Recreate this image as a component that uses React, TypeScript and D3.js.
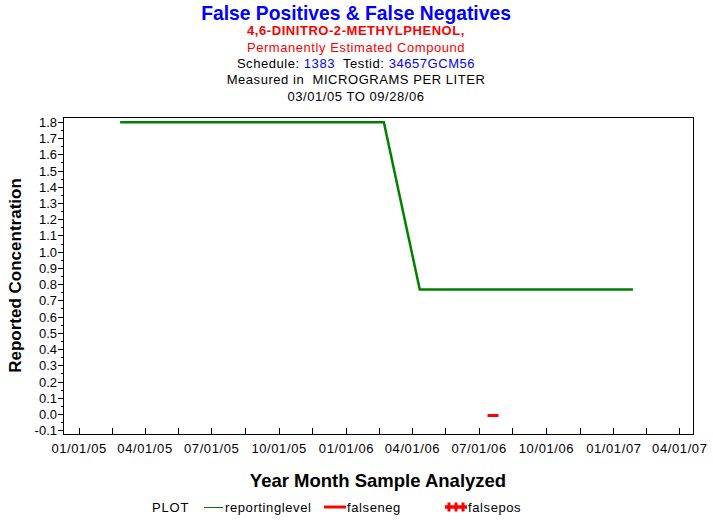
import React from "react";
import * as d3 from "d3";

const reportDates = ["2005-02-26", "2006-02-21", "2006-04-11", "2007-01-27"];
const reportValues = [1.8, 1.8, 0.77, 0.77];
const falsenegDates = ["2006-07-20"];
const falsenegValues = [0.0];
const xTickLabels = ["01/01/05", "04/01/05", "07/01/05", "10/01/05", "01/01/06", "04/01/06", "07/01/06", "10/01/06", "01/01/07", "04/01/07"];
const yTickValues = [-0.1, 0.0, 0.1, 0.2, 0.3, 0.4, 0.5, 0.6, 0.7, 0.8, 0.9, 1.0, 1.1, 1.2, 1.3, 1.4, 1.5, 1.6, 1.7, 1.8];
const titleLines = ["4,6-DINITRO-2-METHYLPHENOL,", "Permanently Estimated Compound"];

const FONT = "Arial, 'Liberation Sans', sans-serif";
const W = 713, H = 523;
const L = 63, R = 693, T = 117, B = 434;
const LS = 0.55;

const parse = d3.timeParse("%Y-%m-%d");
const parseLbl = d3.timeParse("%m/%d/%y");

export default function App() {
  const x = d3.scaleTime().domain([parse("2004-12-10")!, parse("2007-04-19")!]).range([L, R]);
  const y = d3.scaleLinear().domain([-0.1203, 1.8327]).range([B, T]);

  const majorDates = xTickLabels.map((s) => parseLbl(s)!);
  const minorDates = majorDates.slice(0, -1).map((d, i) => new Date((d.getTime() + majorDates[i + 1].getTime()) / 2));

  const line = d3.line<[Date, number]>().x((d) => x(d[0])).y((d) => y(d[1]));
  const rl: [Date, number][] = reportDates.map((d, i) => [parse(d)!, reportValues[i]]);

  const yMinor = yTickValues.slice(0, -1).map((v) => v + 0.05);

  return (
    <svg width={W} height={H} style={{ position: "absolute", left: 0, top: 0, background: "#fff" }} fontFamily={FONT}>
      <rect x={0} y={0} width={W} height={H} fill="#fff" />
      <text x={356} y={20} textAnchor="middle" fontSize={19.3} fontWeight="bold" fill="#0000ff">False Positives &amp; False Negatives</text>
      <text x={356} y={35} textAnchor="middle" fontSize={13} fontWeight="bold" fill="#ff0000" letterSpacing={LS}>{titleLines[0]}</text>
      <text x={356} y={52} textAnchor="middle" fontSize={13} fill="#ff0000" letterSpacing={LS}>{titleLines[1]}</text>
      <text x={356} y={68} textAnchor="middle" fontSize={13} fill="#000" letterSpacing={LS} style={{ whiteSpace: "pre" }}>
        {"Schedule: "}<tspan fill="#0000ff">1383</tspan>{"  Testid: "}<tspan fill="#0000ff">34657GCM56</tspan>
      </text>
      <text x={356} y={84} textAnchor="middle" fontSize={13} fill="#000" letterSpacing={LS} style={{ whiteSpace: "pre" }}>{"Measured in  MICROGRAMS PER LITER"}</text>
      <text x={356} y={101} textAnchor="middle" fontSize={13} fill="#000" letterSpacing={LS}>03/01/05 TO 09/28/06</text>

      {/* frame */}
      <rect x={L} y={T} width={R - L} height={B - T} fill="none" stroke="#000" strokeWidth={1} shapeRendering="crispEdges" />

      {/* y ticks */}
      {yTickValues.map((v) => (
        <g key={"y" + v}>
          <line x1={L - 5} x2={L} y1={y(v)} y2={y(v)} stroke="#000" shapeRendering="crispEdges" />
          <text x={L - 6} y={y(v) + 4.5} textAnchor="end" fontSize={13} fill="#000">{v.toFixed(1)}</text>
        </g>
      ))}
      {yMinor.map((v) => (
        <line key={"ym" + v} x1={L - 2} x2={L} y1={y(v)} y2={y(v)} stroke="#000" shapeRendering="crispEdges" />
      ))}

      {/* x ticks */}
      {majorDates.map((d, i) => (
        <g key={"x" + i}>
          <line x1={x(d)} x2={x(d)} y1={B} y2={B - 6} stroke="#000" shapeRendering="crispEdges" />
          <text x={x(d)} y={453} textAnchor="middle" fontSize={13} fill="#000" letterSpacing={0.6}>{xTickLabels[i]}</text>
        </g>
      ))}
      {minorDates.map((d, i) => (
        <line key={"xm" + i} x1={x(d)} x2={x(d)} y1={B} y2={B - 6} stroke="#000" shapeRendering="crispEdges" />
      ))}

      <text transform={`translate(21,275.5) rotate(-90)`} textAnchor="middle" fontSize={17} fontWeight="bold" fill="#000">Reported Concentration</text>
      <text x={378} y={487} textAnchor="middle" fontSize={18.5} fontWeight="bold" fill="#000">Year Month Sample Analyzed</text>

      {/* data */}
      <path d={line(rl)!} fill="none" stroke="#008000" strokeWidth={2.5} />
      {falsenegDates.map((d, i) => (
        <line key={"fn" + i} x1={x(parse(d)!) - 5.5} x2={x(parse(d)!) + 5.5} y1={y(falsenegValues[i]) + 1} y2={y(falsenegValues[i]) + 1} stroke="#ff0000" strokeWidth={3} />
      ))}

      {/* legend */}
      <text x={152} y={512} fontSize={13} fill="#000" letterSpacing={0.8}>PLOT</text>
      <line x1={204} x2={223} y1={507.5} y2={507.5} stroke="#008000" strokeWidth={1} />
      <text x={225} y={512} fontSize={13} fill="#000" letterSpacing={0.6}>reportinglevel</text>
      <line x1={324} x2={346} y1={507} y2={507} stroke="#ff0000" strokeWidth={3} />
      <text x={347} y={512} fontSize={13} fill="#000" letterSpacing={0.6}>falseneg</text>
      <line x1={445} x2={467} y1={507} y2={507} stroke="#ff0000" strokeWidth={3.5} />
      {[449, 456, 463].map((px) => (
        <line key={"p" + px} x1={px} x2={px} y1={502.5} y2={511.5} stroke="#ff0000" strokeWidth={3} />
      ))}
      <text x={468} y={512} fontSize={13} fill="#000" letterSpacing={0.6}>falsepos</text>
    </svg>
  );
}
